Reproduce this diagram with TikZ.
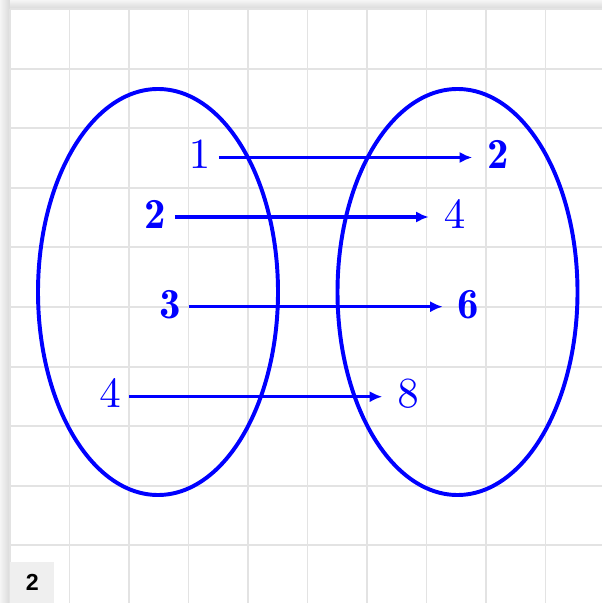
\documentclass[tikz,border=0pt]{standalone}
\usepackage{fontspec}
\newfontfamily\tagfont{Liberation Sans}
\usetikzlibrary{arrows.meta}
\definecolor{gridgray}{HTML}{E3E3E3}
\definecolor{tagfill}{HTML}{EFEFEF}
\newcommand{\bignum}[1]{\scalebox{3.05}{$#1$}}

\begin{document}
\begin{tikzpicture}[x=0.025cm, y=-0.025cm,
  num/.style={text=blue, inner sep=6pt, text depth=3.7pt},
  map/.style={-{Latex[length=9pt,width=8pt]}, line width=2.4pt, blue, shorten >=4.5pt},
  set/.style={line width=2.8pt, blue}]
  \useasboundingbox (0,0) rectangle (602,603);

  % Shadow of the sheet
  \shade[left color=gray!8, right color=gray!30] (0,0) rectangle (10,603);
  \shade[top color=gray!8, bottom color=gray!30] (10,0) rectangle (602,9);
  \fill[white] (10,9) rectangle (602,603);

  % Grid
  \foreach \k in {0,...,10} {
    \draw[gridgray, line width=1.4pt] ({10+59.5*\k},9) -- ({10+59.5*\k},603);
    \draw[gridgray, line width=1.4pt] (10,{9+59.6*\k}) -- (602,{9+59.6*\k});
  }

  % Sets
  \draw[set] (158,292) ellipse [x radius=120, y radius=203];
  \draw[set] (457.5,292) ellipse [x radius=120, y radius=203];

  % Domain
  \node[num] (d1) at (199.5,157.5) {\bignum{1}};
  \node[num] (d2) at (155.5,217) {\bignum{\mathbf{2}}};
  \node[num] (d3) at (170,306.7) {\bignum{\mathbf{3}}};
  \node[num] (d4) at (110,396.7) {\bignum{4}};

  % Codomain
  \node[num] (r2) at (498,157.5) {\bignum{\mathbf{2}}};
  \node[num] (r4) at (454.5,217) {\bignum{4}};
  \node[num] (r6) at (468.5,306.7) {\bignum{\mathbf{6}}};
  \node[num] (r8) at (408,396.7) {\bignum{8}};

  % Mapping
  \draw[map] (d1.east) -- (r2.west);
  \draw[map] (d2.east) -- (r4.west);
  \draw[map] (d3.east) -- (r6.west);
  \draw[map] (d4.east) -- (r8.west);

  % Tag
  \node[fill=tagfill, anchor=south west, minimum width=1.1cm, minimum height=1.03cm,
    inner sep=0pt, font=\tagfont\bfseries\fontsize{16.5}{18}\selectfont] (tag) at (10,603) {2};
\end{tikzpicture}
\end{document}
